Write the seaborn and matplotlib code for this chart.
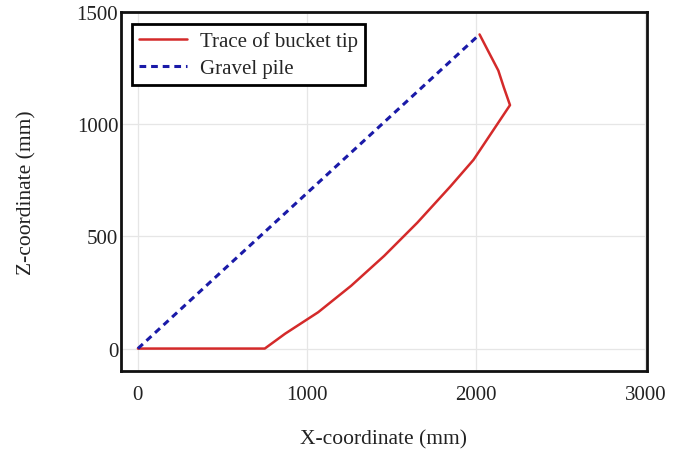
import matplotlib
matplotlib.use("Agg")
import matplotlib.pyplot as plt
import seaborn as sns
import pandas as pd

# Data
trace_x = [0, 750, 870, 1066, 1261, 1456, 1652, 1848, 1984, 2100, 2200, 2163, 2131, 2075, 2020]
trace_z = [0, 0, 66, 162, 280, 413, 561, 723, 841, 972, 1085, 1165, 1239, 1320, 1400]
pile_x = [0, 2020]
pile_z = [0, 1400]
x_ticks = [0, 1000, 2000, 3000]
z_ticks = [0, 500, 1000, 1500]

sns.set_theme(style="whitegrid")
plt.rcParams['font.family'] = ['Liberation Serif', 'DejaVu Serif']

fig = plt.figure(figsize=(6.74, 4.52), dpi=100)
ax = fig.add_axes([121/674, 1 - 372/452, (647-121)/674, (372-13)/452])

trace_df = pd.DataFrame({"x": trace_x, "z": trace_z})
pile_df = pd.DataFrame({"x": pile_x, "z": pile_z})

sns.lineplot(data=trace_df, x="x", y="z", sort=False, estimator=None, ax=ax,
             color="#d42a2a", linewidth=1.8, label="Trace of bucket tip")
sns.lineplot(data=pile_df, x="x", y="z", sort=False, estimator=None, ax=ax,
             color="#1a1aa8", linewidth=2.2, linestyle=(0, (2.2, 1.6)), label="Gravel pile")

ax.set_xlim(-100, 3010)
ax.set_ylim(-100, 1500)
ax.set_xticks(x_ticks)
ax.set_yticks(z_ticks)
ax.tick_params(axis='both', labelsize=15, length=0, colors='#222222')
ax.tick_params(axis='x', pad=10)
ax.tick_params(axis='y', pad=2)
ax.grid(True, color='#e6e6e6', linewidth=0.9)
for s in ax.spines.values():
    s.set_color('#111111')
    s.set_linewidth(2.0)
ax.set_facecolor('white')

ax.set_xlabel("X-coordinate (mm)", fontsize=15.5, labelpad=18, color='#222222')
ax.set_ylabel("Z-coordinate (mm)", fontsize=15.5, labelpad=29, color='#222222')

leg = ax.legend(loc='upper left', bbox_to_anchor=(0.021, 0.967), fontsize=15,
                frameon=True, fancybox=False, framealpha=1, edgecolor='black',
                handlelength=2.3, handletextpad=0.6, borderpad=0.35, labelspacing=0.35,
                borderaxespad=0)
leg.get_frame().set_linewidth(2.0)

fig.savefig("out.png", dpi=100)
